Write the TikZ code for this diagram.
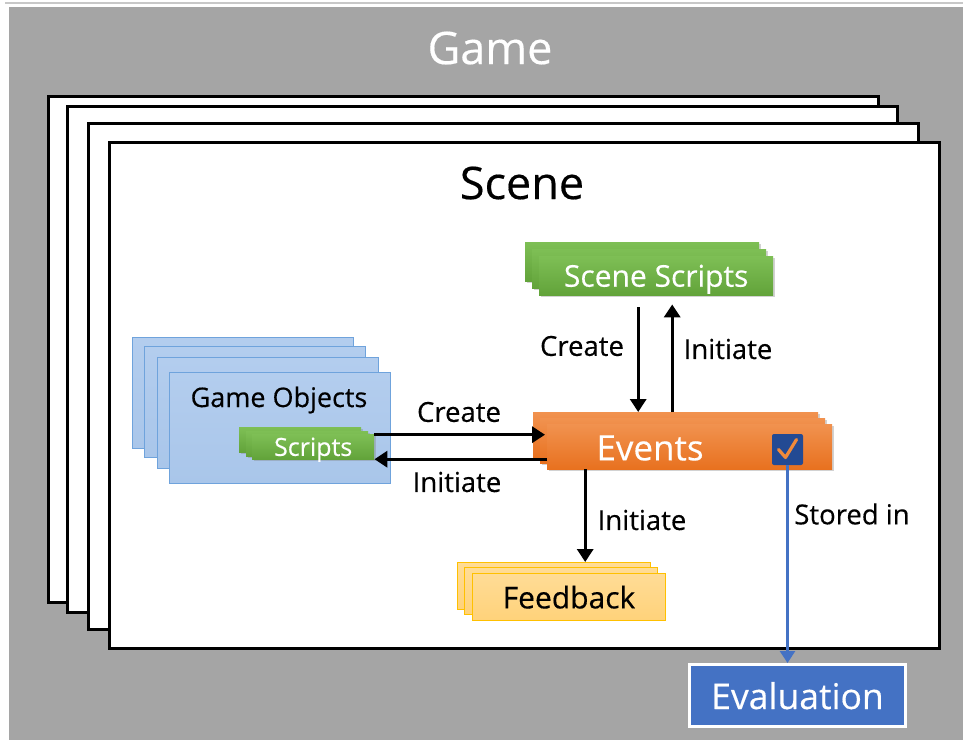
\documentclass[tikz,border=0pt]{standalone}
\usepackage{fontspec}
\setmainfont{Open Sans}[FakeBold=0.35]
\usetikzlibrary{arrows.meta,shadows}

\definecolor{bggray}{HTML}{A5A5A5}
\definecolor{topline}{HTML}{C8C8C8}
\definecolor{grtop}{HTML}{7EBF55}
\definecolor{grbot}{HTML}{62A33A}
\definecolor{ortop}{HTML}{F1924F}
\definecolor{orbot}{HTML}{E8711F}
\definecolor{goFill}{HTML}{A9C6EA}
\definecolor{goTop}{HTML}{B3CDEE}
\definecolor{goEdge}{HTML}{6FA3DC}
\definecolor{fbTop}{HTML}{FFDC96}
\definecolor{fbBot}{HTML}{FFD27A}
\definecolor{fbEdge}{HTML}{FFC000}
\definecolor{evalBlue}{HTML}{4472C4}
\definecolor{chkBlue}{HTML}{234A93}
\definecolor{chkOrange}{HTML}{F08A3A}

\tikzset{
  frame/.style={draw=black, fill=white, line width=3pt, inner sep=0pt, minimum width=830pt, minimum height=506pt},
  greenbox/.style={top color=grtop, bottom color=grbot, draw=none, inner sep=0pt, text depth=0pt,
    drop shadow={opacity=0.35, shadow xshift=1.5pt, shadow yshift=-2pt}},
  orangebox/.style={top color=ortop, bottom color=orbot, draw=none, inner sep=0pt,
    drop shadow={opacity=0.35, shadow xshift=1.5pt, shadow yshift=-2pt}},
  bluebox/.style={top color=goTop, bottom color=goFill, draw=goEdge, line width=1pt, inner sep=0pt,
    minimum width=221pt, minimum height=111pt},
  yellowbox/.style={top color=fbTop, bottom color=fbBot, draw=fbEdge, line width=1pt, inner sep=0pt,
    minimum width=193pt, minimum height=47pt, text depth=0pt},
  arr/.style={draw=black, line width=3.3pt, -{Triangle[length=13pt,width=16pt]}},
  bluearr/.style={draw=evalBlue, line width=2.6pt, -{Triangle[length=12pt,width=15pt]}},
  lbl/.style={font=\fontsize{27.5}{30}\selectfont, text=black, inner sep=0pt},
}

\begin{document}
\begin{tikzpicture}[x=1pt,y=-1pt]
  % canvas and outer game area
  \useasboundingbox (0,0) rectangle (963,740);
  \fill[white] (0,0) rectangle (963,740);
  \draw[topline, line width=1.5pt] (5,3) -- (963,3);
  \fill[bggray] (9,7) rectangle (963,740);
  \node[text=white, font=\fontsize{45}{50}\selectfont, inner sep=0pt] (game) at (490,48) {Game};

  % stack of scene frames
  \node[frame, anchor=north west] (sc1) at (46.5,94.5) {};
  \node[frame, anchor=north west] (sc2) at (65.5,105) {};
  \node[frame, anchor=north west] (sc3) at (86.5,122) {};
  \node[frame, anchor=north west] (scene) at (107.5,140.5) {};
  \node[font=\fontsize{45}{48}\selectfont, inner sep=0pt] (scenetitle) at (522,183) {Scene};

  % scene scripts stack
  \node[greenbox, minimum width=234pt, minimum height=39pt, anchor=north west] (ss1) at (525,242) {};
  \node[greenbox, minimum width=234pt, minimum height=39pt, anchor=north west] (ss2) at (532,249) {};
  \node[greenbox, minimum width=234pt, minimum height=39pt, anchor=north west,
        text=white, font=\fontsize{30}{32}\selectfont] (ss) at (539,256) {Scene Scripts};

  % events stack
  \node[orangebox, minimum width=285pt, minimum height=45pt, anchor=north west] (ev1) at (533,412) {};
  \node[orangebox, minimum width=285pt, minimum height=45pt, anchor=north west] (ev2) at (540,418) {};
  \node[orangebox, minimum width=285pt, minimum height=45pt, anchor=north west] (ev) at (547,424) {};
  \node[text=white, font=\fontsize{35}{38}\selectfont, inner sep=0pt] (evtext) at (650,448) {Events};
  \node[fill=chkBlue, rounded corners=2pt, minimum size=31pt, inner sep=0pt] (chk) at (787.5,449.5) {};
  \draw[chkOrange, line width=3.2pt, line cap=round, line join=round]
    ([shift={(-9pt,0pt)}]chk.center) -- ([shift={(-2pt,-8pt)}]chk.center) -- ([shift={(9pt,10pt)}]chk.center);

  % game objects stack
  \node[bluebox, anchor=north west] (go1) at (132,337) {};
  \node[bluebox, anchor=north west] (go2) at (144,346) {};
  \node[bluebox, anchor=north west] (go3) at (157,357) {};
  \node[bluebox, anchor=north west] (go) at (169,372) {};
  \node[font=\fontsize{27}{29}\selectfont, inner sep=0pt] (gotext) at (279,400) {Game Objects};

  % scripts stack inside the game object
  \node[greenbox, minimum width=122pt, minimum height=25pt, anchor=north west] (scr1) at (239,427) {};
  \node[greenbox, minimum width=122pt, minimum height=25pt, anchor=north west] (scr2) at (246,431) {};
  \node[greenbox, minimum width=122pt, minimum height=25pt, anchor=north west,
        text=white, font=\fontsize{25}{26}\selectfont] (scr) at (252,434) {Scripts};

  % feedback stack
  \node[yellowbox, anchor=north west] (fb1) at (457,562) {};
  \node[yellowbox, anchor=north west] (fb2) at (464,567) {};
  \node[yellowbox, anchor=north west, font=\fontsize{30}{32}\selectfont] (fb) at (472,573) {Feedback};

  % evaluation box outside the scenes
  \node[fill=evalBlue, draw=white, line width=3pt, minimum width=216pt, minimum height=62pt,
        inner sep=0pt, text depth=0pt, text=white, font=\fontsize{35.5}{38}\selectfont] (eval) at (797.5,695.5) {Evaluation};

  % connectors
  \draw[arr, shorten <=12pt] ([xshift=-18pt]ss.south) -- ([xshift=-18pt]ss.south |- ev1.north);
  \draw[arr, shorten >=9pt] ([xshift=16pt]ss.south |- ev1.north) -- ([xshift=16pt]ss.south);
  \draw[arr, shorten >=2pt] ([yshift=12pt]scr.east) -- ([yshift=12pt]scr.east -| ev.west);
  \draw[arr] ([yshift=-12.5pt]ev.west) -- ([yshift=-12.5pt]ev.west -| scr.east);
  \draw[arr] ([xshift=-104.5pt]ev.south) -- ([xshift=-104.5pt]ev.south |- fb1.north);
  \draw[bluearr] (chk.south) -- (chk.south |- eval.north);

  % connector labels
  \node[lbl] (l1) at (582,346) {Create};
  \node[lbl] (l2) at (728,349) {Initiate};
  \node[lbl] (l3) at (459,412) {Create};
  \node[lbl] (l4) at (457,482) {Initiate};
  \node[lbl] (l5) at (642,520) {Initiate};
  \node[lbl] (l6) at (852,514) {Stored in};
\end{tikzpicture}
\end{document}
